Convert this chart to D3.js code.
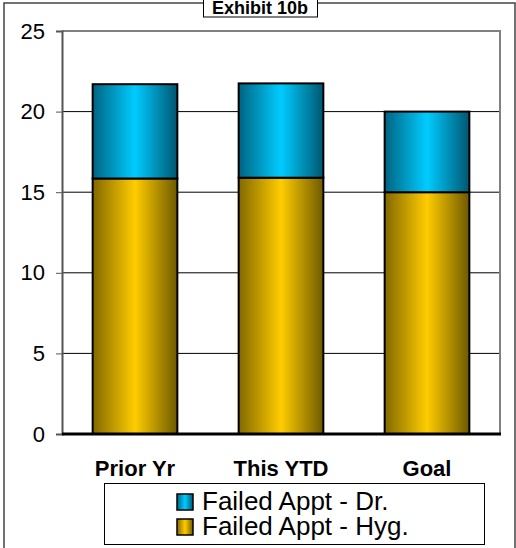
<!DOCTYPE html>
<html>
<head>
<meta charset="utf-8">
<script src="https://cdn.jsdelivr.net/npm/d3@7"></script>
<style>
  body { margin: 0; background: #fff; }
  svg { display: block; font-family: Arial, "Liberation Sans", sans-serif; }
</style>
</head>
<body>
<div class="chart"></div>
<script>
// DATA ------------------------------
const categories = ["Prior Yr", "This YTD", "Goal"];
const hygValues = [15.85, 15.9, 15];
const drValues = [5.85, 5.85, 5];
const yTicks = [0, 5, 10, 15, 20, 25];
const seriesNames = ["Failed Appt - Hyg.", "Failed Appt - Dr."];
const title = "Exhibit 10b";

const W = 516, H = 548;
const plot = {left: 62, right: 500, top: 31, bottom: 434};

const svg = d3.select(".chart").append("svg")
    .attr("width", W)
    .attr("height", H);

// gradients
const defs = svg.append("defs");
function makeGrad(id, edge, mid) {
    const g = defs.append("linearGradient").attr("id", id)
        .attr("x1", "0%").attr("x2", "100%").attr("y1", "0%").attr("y2", "0%");
    g.append("stop").attr("offset", "0%").attr("stop-color", edge[0]);
    g.append("stop").attr("offset", "50%").attr("stop-color", mid);
    g.append("stop").attr("offset", "100%").attr("stop-color", edge[1]);
}
makeGrad("gHyg", ["#826800", "#6e5a00"], "#ffcc00");
makeGrad("gDr", ["#006482", "#005670"], "#00ccff");
const fills = ["url(#gHyg)", "url(#gDr)"];

// outer frame
svg.append("rect")
    .attr("x", 4).attr("y", 3)
    .attr("width", 511).attr("height", 560)
    .attr("fill", "none").attr("stroke", "#444").attr("stroke-width", 1.5);

// scales
const xScale = d3.scaleBand()
    .domain(categories)
    .range([plot.left, plot.right])
    .paddingInner(0.42)
    .paddingOuter(0.21);

const yScale = d3.scaleLinear()
    .domain([0, 25])
    .range([plot.bottom, plot.top]);

// gridlines
svg.append("g")
    .selectAll("line")
    .data(yTicks.filter(d => d > 0 && d < 25))
    .join("line")
    .attr("x1", plot.left).attr("x2", plot.right)
    .attr("y1", d => yScale(d)).attr("y2", d => yScale(d))
    .attr("stroke", "#000").attr("stroke-width", 1);

// plot area border (top + right)
svg.append("path")
    .attr("d", `M${plot.left},${yScale(25)}H${plot.right}V${plot.bottom}`)
    .attr("fill", "none").attr("stroke", "#808080").attr("stroke-width", 2);

// y axis
const yAxis = d3.axisLeft(yScale)
    .tickValues(yTicks)
    .tickSize(6)
    .tickPadding(11);

const yAxisGroup = svg.append("g")
    .attr("transform", `translate(${plot.left},0)`)
    .call(yAxis);
yAxisGroup.select(".domain").attr("stroke", "#555").attr("stroke-width", 2);
yAxisGroup.selectAll(".tick line").attr("stroke", "#555");
yAxisGroup.selectAll("text")
    .attr("font-size", 22)
    .attr("font-family", "Arial, 'Liberation Sans', sans-serif")
    .attr("fill", "#000");

// stacked bars
const rows = categories.map((c, i) => ({cat: c, hyg: hygValues[i], dr: drValues[i]}));
const stacked = d3.stack().keys(["hyg", "dr"])(rows);

svg.append("g")
    .selectAll("g")
    .data(stacked)
    .join("g")
    .attr("fill", (d, i) => fills[i])
    .selectAll("rect")
    .data(d => d)
    .join("rect")
    .attr("x", d => xScale(d.data.cat))
    .attr("y", d => yScale(d[1]))
    .attr("width", xScale.bandwidth())
    .attr("height", d => yScale(d[0]) - yScale(d[1]))
    .attr("stroke", "#000")
    .attr("stroke-width", 2);

// x axis line
svg.append("line")
    .attr("x1", plot.left).attr("x2", plot.right + 1)
    .attr("y1", plot.bottom).attr("y2", plot.bottom)
    .attr("stroke", "#000").attr("stroke-width", 3);

// x labels
svg.append("g")
    .selectAll("text")
    .data(categories)
    .join("text")
    .attr("x", d => xScale(d) + xScale.bandwidth() / 2)
    .attr("y", 476)
    .attr("text-anchor", "middle")
    .attr("font-size", 22)
    .attr("font-weight", "bold")
    .text(d => d);

// legend
svg.append("rect")
    .attr("x", 104.5).attr("y", 483.5)
    .attr("width", 380).attr("height", 61)
    .attr("fill", "#fff").attr("stroke", "#000").attr("stroke-width", 1);

const legendOrder = [1, 0];
const leg = svg.append("g")
    .selectAll("g")
    .data(legendOrder)
    .join("g")
    .attr("transform", (d, i) => `translate(177,${494 + i * 25})`);
leg.append("rect")
    .attr("width", 16).attr("height", 16)
    .attr("fill", d => fills[d])
    .attr("stroke", "#000").attr("stroke-width", 1.5);
leg.append("text")
    .attr("x", 25).attr("y", 16)
    .attr("font-size", 26)
    .text(d => seriesNames[d]);

// title box
svg.append("rect")
    .attr("x", 203.5).attr("y", -2)
    .attr("width", 114).attr("height", 19)
    .attr("fill", "#fff").attr("stroke", "#000").attr("stroke-width", 1);
svg.append("text")
    .attr("x", 260).attr("y", 14)
    .attr("text-anchor", "middle")
    .attr("font-size", 18)
    .attr("font-weight", "bold")
    .text(title);
</script>
</body>
</html>
